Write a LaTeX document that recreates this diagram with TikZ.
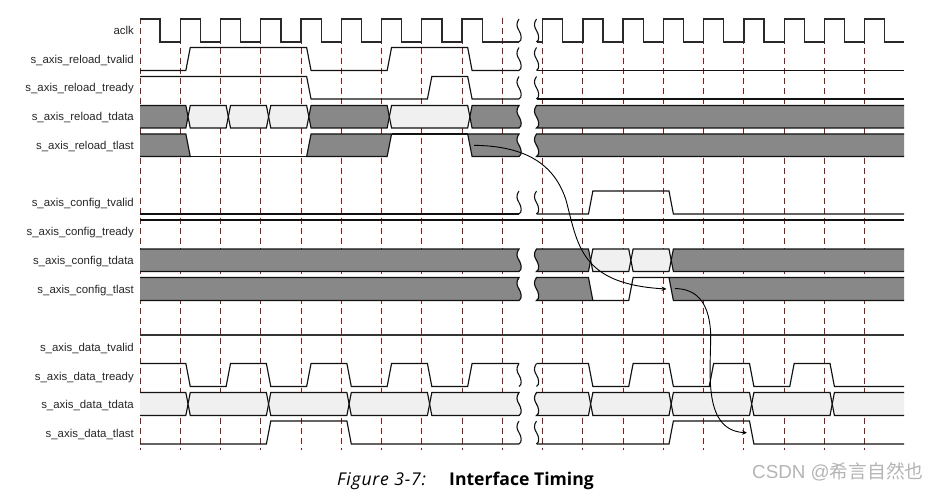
\documentclass[tikz,border=0pt]{standalone}
\usepackage{fontspec}
\setmainfont{Liberation Sans}
\newfontfamily\capfont{Open Sans}
\newfontfamily\cjkfont{Noto Sans CJK SC}
\usetikzlibrary{arrows.meta}
\definecolor{darkc}{HTML}{888888}
\definecolor{lightc}{HTML}{F0F0F0}
\definecolor{dashc}{HTML}{8B1A1A}
\definecolor{linec}{HTML}{111111}
\definecolor{markc}{HTML}{B4B4B4}
\tikzset{
  declare function={edg(\k)=140+40.26*\k; ts(\k)=edg(\k)+5.6; te(\k)=edg(\k)+10; mm(\k)=edg(\k)+7.8;},
  sigline/.style={draw=linec,line width=1.15pt,line join=miter,miter limit=3},
  clkline/.style={draw=linec!90!white,line width=1.3pt,line join=miter},
  thickline/.style={draw=linec!85!white,line width=1.5pt},
  gridline/.style={draw=dashc,line width=1pt,dash pattern=on 6.5pt off 3.5pt,dash phase=8.3pt},
  wavy/.style={draw=linec,line width=1.1pt},
  siglabel/.style={anchor=base east,font=\fontsize{11.4}{12}\selectfont,text=black!85,inner sep=0pt},
  flow/.style={draw=black,line width=0.9pt,-{Stealth[length=5pt,width=4.5pt]}},
}
\def\setrow#1#2{\def\hi{#1}\def\lo{#2}\def\mi{#1/2+#2/2}}
\newcommand\up[1]{-- ({ts(#1)},\lo) -- ({te(#1)},\hi)}
\newcommand\dn[1]{-- ({ts(#1)},\hi) -- ({te(#1)},\lo)}
\newcommand\wdn[1]{.. controls ({#1-3.2},{\hi+0.2*(\lo-\hi)}) and ({#1-2.2},{\hi+0.35*(\lo-\hi)}) .. ({#1},{\hi+0.5*(\lo-\hi)}) .. controls ({#1+2.2},{\hi+0.65*(\lo-\hi)}) and ({#1+3.6},{\hi+0.92*(\lo-\hi)}) .. ({#1},\lo)}
\newcommand\wup[1]{.. controls ({#1+3.6},{\hi+0.92*(\lo-\hi)}) and ({#1+2.2},{\hi+0.65*(\lo-\hi)}) .. ({#1},{\hi+0.5*(\lo-\hi)}) .. controls ({#1-2.2},{\hi+0.35*(\lo-\hi)}) and ({#1-3.2},{\hi+0.2*(\lo-\hi)}) .. ({#1},\hi)}
\def\LX{519}\def\RX{536.5}
% filled shape: open sides stay unstroked
\newcommand\blk[2]{\path[fill=#1] #2; \path[sigline] #2;}
\newcommand\hexc[3]{\blk{#1}{({te(#2)},\hi) -- ({ts(#3)},\hi) -- ({mm(#3)},{\mi}) -- ({ts(#3)},\lo) -- ({te(#2)},\lo) -- ({mm(#2)},{\mi}) -- cycle}}
\newcommand\lcell[2]{\blk{#1}{(140,\hi) -- ({ts(#2)},\hi) -- ({mm(#2)},{\mi}) -- ({ts(#2)},\lo) -- (140,\lo)}}
\newcommand\rcell[2]{\blk{#1}{(904,\hi) -- ({te(#2)},\hi) -- ({mm(#2)},{\mi}) -- ({te(#2)},\lo) -- (904,\lo)}}
\newcommand\tolb[2]{\blk{#1}{(\LX,\hi) -- ({te(#2)},\hi) -- ({mm(#2)},{\mi}) -- ({te(#2)},\lo) -- (\LX,\lo) \wup{\LX} -- cycle}}
\newcommand\fulll[1]{\blk{#1}{(140,\hi) -- (\LX,\hi) \wdn{\LX} -- (140,\lo)}}
\newcommand\fullr[1]{\blk{#1}{(904,\hi) -- (\RX,\hi) \wdn{\RX} -- (904,\lo)}}
\newcommand\frb[2]{\blk{#1}{(\RX,\hi) -- ({ts(#2)},\hi) -- ({mm(#2)},{\mi}) -- ({ts(#2)},\lo) -- (\RX,\lo) \wup{\RX} -- cycle}}
\newcommand\twowaves{\path[wavy] (\LX,\hi) \wdn{\LX}; \path[wavy] (\RX,\hi) \wdn{\RX};}
\begin{document}
\begin{tikzpicture}[x=1pt,y=-1pt]
\useasboundingbox (0,0) rectangle (938,492);
% clock grid
\foreach \k in {0,...,18} \path[gridline] ({edg(\k)},16) -- ({edg(\k)},450);
% labels
\node[siglabel] (l1) at (134,35) {aclk};
\node[siglabel] (l2) at (134,64) {s\_axis\_reload\_tvalid};
\node[siglabel] (l3) at (134,92) {s\_axis\_reload\_tready};
\node[siglabel] (l4) at (134,121) {s\_axis\_reload\_tdata};
\node[siglabel] (l5) at (134,150) {s\_axis\_reload\_tlast};
\node[siglabel] (l6) at (134,207) {s\_axis\_config\_tvalid};
\node[siglabel] (l7) at (134,236) {s\_axis\_config\_tready};
\node[siglabel] (l8) at (134,265) {s\_axis\_config\_tdata};
\node[siglabel] (l9) at (134,293) {s\_axis\_config\_tlast};
\node[siglabel] (l10) at (134,351) {s\_axis\_data\_tvalid};
\node[siglabel] (l11) at (134,380) {s\_axis\_data\_tready};
\node[siglabel] (l12) at (134,408) {s\_axis\_data\_tdata};
\node[siglabel] (l13) at (134,437) {s\_axis\_data\_tlast};
% aclk
\setrow{19}{42}
\path[clkline] (140,\hi) \foreach \k in {0,...,7} { -- ({edg(\k)+20.13},\hi) -- ({edg(\k)+20.13},\lo) -- ({edg(\k+1)},\lo) -- ({edg(\k+1)},\hi)} -- ({edg(8)+20.13},\hi) -- ({edg(8)+20.13},\lo) -- (\LX,\lo);
\path[clkline] (\RX,\lo) -- ({edg(10)},\lo) -- ({edg(10)},\hi) \foreach \k in {10,...,17} { -- ({edg(\k)+20.13},\hi) -- ({edg(\k)+20.13},\lo) -- ({edg(\k+1)},\lo) -- ({edg(\k+1)},\hi)} -- ({edg(18)+20.13},\hi) -- ({edg(18)+20.13},\lo) -- (904,\lo);
\twowaves
% reload tvalid
\setrow{47.5}{70.5}
\path[sigline] (140,\lo) \up{1} \dn{4} \up{6} \dn{8} -- (\LX,\lo);
\path[sigline] (\RX,\lo) -- (904,\lo);
\twowaves
% reload tready
\setrow{76.5}{99}
\path[sigline] (140,\hi) \dn{4} \up{7} \dn{8} -- (\LX,\lo);
\path[sigline] (\RX,\lo) -- (904,\lo);
\twowaves
% reload tdata
\setrow{105.5}{128}
\lcell{darkc}{1}
\hexc{lightc}{1}{2}\hexc{lightc}{2}{3}\hexc{lightc}{3}{4}
\hexc{darkc}{4}{6}\hexc{lightc}{6}{8}
\tolb{darkc}{8}
\fullr{darkc}
% reload tlast
\setrow{134}{156.5}
\blk{darkc}{(140,\hi) \dn{1} -- (140,\lo)}
\path[sigline] ({te(1)},\lo) -- ({ts(4)},\lo);
\blk{darkc}{({ts(4)},\lo) -- ({te(4)},\hi) -- ({te(6)},\hi) -- ({ts(6)},\lo) -- cycle}
\path[sigline] ({te(6)},\hi) -- ({ts(8)},\hi);
\blk{darkc}{(\LX,\hi) -- ({ts(8)},\hi) -- ({te(8)},\lo) -- (\LX,\lo) \wup{\LX} -- cycle}
\fullr{darkc}
% config tvalid
\setrow{191}{214}
\path[sigline] (140,\lo) -- (\LX,\lo);
\path[sigline] (\RX,\lo) \up{11} \dn{13} -- (904,\lo);
\twowaves
% config tready
\path[sigline] (140,220) -- (904,220);
% config tdata
\setrow{249}{271.5}
\fulll{darkc}
\frb{darkc}{11}
\hexc{lightc}{11}{12}\hexc{lightc}{12}{13}
\rcell{darkc}{13}
% config tlast
\setrow{277.5}{300.5}
\fulll{darkc}
\blk{darkc}{(\RX,\hi) -- ({ts(11)},\hi) -- ({te(11)},\lo) -- (\RX,\lo) \wup{\RX} -- cycle}
\path[sigline] ({te(11)},\lo) \up{12} -- ({ts(13)},\hi);
\blk{darkc}{(904,\hi) -- ({ts(13)},\hi) -- ({te(13)},\lo) -- (904,\lo)}
% data tvalid
\path[thickline] (140,335) -- (904,335);
% data tready
\setrow{363.5}{386.5}
\path[sigline] (140,\hi) \dn{1} \up{2} \dn{3} \up{4} \dn{5} \up{6} \dn{7} \up{8} -- (\LX,\hi);
\path[sigline] (\RX,\hi) \dn{11} \up{12} \dn{13} \up{14} \dn{15} \up{16} \dn{17} -- (904,\lo);
\twowaves
% data tdata
\setrow{392.5}{415.5}
\lcell{lightc}{1}
\hexc{lightc}{1}{3}\hexc{lightc}{3}{5}\hexc{lightc}{5}{7}
\tolb{lightc}{7}
\frb{lightc}{11}
\hexc{lightc}{11}{13}\hexc{lightc}{13}{15}\hexc{lightc}{15}{17}
\rcell{lightc}{17}
% data tlast
\setrow{421}{444}
\path[sigline] (140,\lo) \up{3} \dn{5} -- (\LX,\lo);
\path[sigline] (\RX,\lo) \up{13} \dn{15} -- (904,\lo);
\twowaves
% cause / effect arrows
\coordinate (a1s) at (474,145.3);
\coordinate (a1e) at (666.5,289);
\coordinate (a2s) at (675,288.5);
\coordinate (a2e) at (747,432.8);
\path[flow] (a1s) .. controls (520,146) and (553,160) .. (566,200) .. controls (578,245) and (580,284) .. (a1e);
\path[flow] (a2s) .. controls (695,289) and (708,300) .. (710.5,330) .. controls (712,365) and (700,430) .. (a2e);
% caption
\node[anchor=base west,inner sep=0pt,font=\capfont\itshape\fontsize{17.6}{20}\selectfont\addfontfeatures{LetterSpace=4.5}] (cap1) at (337,485) {Figure 3-7:};
\node[anchor=base west,inner sep=0pt,font=\capfont\bfseries\fontsize{17.6}{20}\selectfont] (cap2) at (449,485) {Interface Timing};
% watermark
\node[anchor=base west,inner sep=0pt,text=markc,font=\fontsize{18.8}{20}\selectfont] (mark) at (752,478.5) {CSDN @{\cjkfont 希言自然也}};
\end{tikzpicture}
\end{document}
